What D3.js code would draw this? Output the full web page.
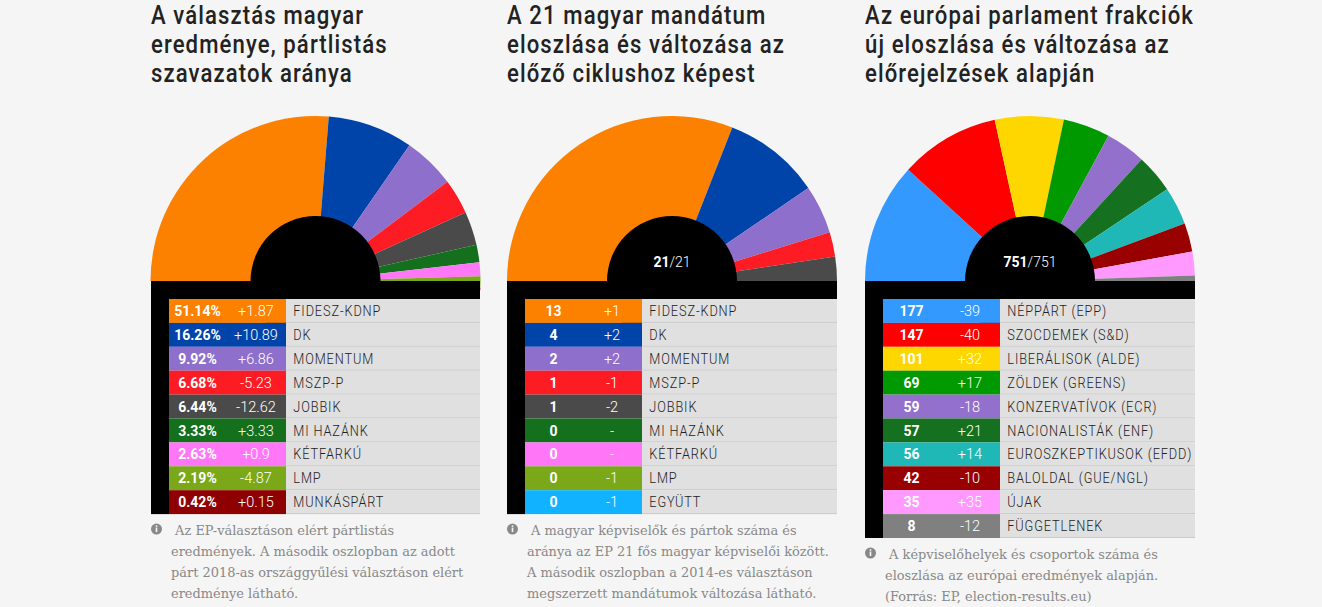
<!DOCTYPE html>
<html>
<head>
<meta charset="utf-8">
<script src="https://cdn.jsdelivr.net/npm/d3@7"></script>
<style>
  html, body { margin: 0; background: #f5f5f5; overflow: hidden; }
  .title { font-family: "Roboto", sans-serif; font-weight: 500; font-size: 25px; letter-spacing: 1.25px; fill: #222; }
  .val { font-family: "Roboto", sans-serif; font-weight: 700; font-size: 14px; fill: #fff; text-anchor: middle; }
  .diff { font-family: "Roboto", sans-serif; font-weight: 300; font-size: 14.5px; fill: #fff; text-anchor: middle; }
  .name { font-family: "Roboto", sans-serif; font-weight: 300; font-size: 14.5px; letter-spacing: 1px; fill: #222; }
  .note { font-family: "DejaVu Serif", serif; font-size: 12.95px; fill: #888; }
  .count { font-family: "Roboto", sans-serif; font-size: 14px; fill: #fff; text-anchor: middle; }
</style>
</head>
<body>
<svg id="chart" width="1322" height="607"></svg>
<script>
// Chart 1: party list result
const partiesA = ["FIDESZ-KDNP", "DK", "MOMENTUM", "MSZP-P", "JOBBIK", "MI HAZÁNK", "KÉTFARKÚ", "LMP", "MUNKÁSPÁRT"];
const sharesA = [51.14, 16.26, 9.92, 6.68, 6.44, 3.33, 2.63, 2.19, 0.42];
const labelsA = ["51.14%", "16.26%", "9.92%", "6.68%", "6.44%", "3.33%", "2.63%", "2.19%", "0.42%"];
const diffsA = ["+1.87", "+10.89", "+6.86", "-5.23", "-12.62", "+3.33", "+0.9", "-4.87", "+0.15"];
const colorsA = ["#fd8100", "#0044aa", "#8e6fcb", "#fe1c24", "#4a4a4a", "#14701c", "#ff77f7", "#7aa818", "#8f0000"];

// Chart 2: the 21 Hungarian seats
const partiesB = ["FIDESZ-KDNP", "DK", "MOMENTUM", "MSZP-P", "JOBBIK", "MI HAZÁNK", "KÉTFARKÚ", "LMP", "EGYÜTT"];
const seatsB = [13, 4, 2, 1, 1, 0, 0, 0, 0];
const diffsB = ["+1", "+2", "+2", "-1", "-2", "-", "-", "-1", "-1"];
const colorsB = ["#fd8100", "#0044aa", "#8e6fcb", "#fe1c24", "#4a4a4a", "#14701c", "#ff77f7", "#7aa818", "#11b2ff"];

// Chart 3: EP groups
const groupsC = ["NÉPPÁRT (EPP)", "SZOCDEMEK (S&D)", "LIBERÁLISOK (ALDE)", "ZÖLDEK (GREENS)", "KONZERVATÍVOK (ECR)", "NACIONALISTÁK (ENF)", "EUROSZKEPTIKUSOK (EFDD)", "BALOLDAL (GUE/NGL)", "ÚJAK", "FÜGGETLENEK"];
const seatsC = [177, 147, 101, 69, 59, 57, 56, 42, 35, 8];
const diffsC = ["-39", "-40", "+32", "+17", "-18", "+21", "+14", "-10", "+35", "-12"];
const colorsC = ["#3399ff", "#ff0000", "#ffd700", "#009900", "#9370cc", "#15711f", "#20b7b7", "#990000", "#ff99ff", "#808080"];

const titles = [
  ["A választás magyar", "eredménye, pártlistás", "szavazatok aránya"],
  ["A 21 magyar mandátum", "eloszlása és változása az", "előző ciklushoz képest"],
  ["Az európai parlament frakciók", "új eloszlása és változása az", "előrejelzések alapján"]
];
const notes = [
  [" Az EP-választáson elért pártlistás", "eredmények. A második oszlopban az adott", "párt 2018-as országgyűlési választáson elért", "eredménye látható."],
  [" A magyar képviselők és pártok száma és", "aránya az EP 21 fős magyar képviselői között.", "A második oszlopban a 2014-es választáson", "megszerzett mandátumok változása látható."],
  [" A képviselőhelyek és csoportok száma és", "eloszlása az európai eredmények alapján.", "(Forrás: EP, election-results.eu)"]
];

const svg = d3.select("#chart");
const baseY = 281, bandH = 18, rowH = 23.9, outerR = 165, innerR = 65;

function drawPanel(cfg) {
  const g = svg.append("g").attr("transform", `translate(${cfg.x}, 0)`);
  const w = cfg.w, cx = w / 2;

  // no condensed font installed, so squeeze the headline horizontally
  g.selectAll(".title").data(cfg.title).enter().append("text")
    .attr("class", "title")
    .attr("transform", (d, i) => `translate(0, ${24 + i * 29}) scale(0.885, 1)`)
    .text(d => d);

  // half donut, sized so that the slices run past the band when span > 180
  const pie = d3.pie().sort(null).startAngle(-Math.PI / 2).endAngle(cfg.span * Math.PI / 180 - Math.PI / 2);
  const arc = d3.arc().innerRadius(0).outerRadius(outerR);
  g.append("g").attr("transform", `translate(${cx}, ${baseY})`)
    .selectAll("path").data(pie(cfg.values)).enter().append("path")
    .attr("d", arc).attr("fill", (d, i) => cfg.colors[i]);

  g.append("circle").attr("cx", cx).attr("cy", baseY).attr("r", innerR).attr("fill", "#000");
  if (cfg.count) {
    const t = g.append("text").attr("class", "count").attr("x", cx).attr("y", 267);
    t.append("tspan").attr("font-weight", 700).text(cfg.count[0]);
    t.append("tspan").attr("font-weight", 300).text("/" + cfg.count[1]);
  }

  // table
  const y = d3.scaleBand().domain(d3.range(cfg.names.length))
    .range([baseY + bandH, baseY + bandH + rowH * cfg.names.length]);
  g.append("rect").attr("x", 0).attr("y", baseY).attr("width", w).attr("height", bandH).attr("fill", "#000");
  g.append("rect").attr("x", 0).attr("y", baseY).attr("width", 18)
    .attr("height", bandH + rowH * cfg.names.length).attr("fill", "#000");

  const rows = g.selectAll(".row").data(cfg.names).enter().append("g")
    .attr("transform", (d, i) => `translate(18, ${y(i)})`);
  rows.append("rect").attr("x", 117).attr("width", w - 135).attr("height", y.bandwidth()).attr("fill", "#e0e0e0");
  rows.append("rect").attr("width", 117).attr("height", y.bandwidth()).attr("fill", (d, i) => cfg.colors[i]);
  rows.append("line").attr("x1", 117).attr("x2", w - 18).attr("y1", y.bandwidth() - 0.5).attr("y2", y.bandwidth() - 0.5)
    .attr("stroke", "#cbcbcb");
  rows.append("text").attr("class", "val").attr("x", 28.5).attr("y", 17).text((d, i) => cfg.labels[i]);
  rows.append("text").attr("class", "diff").attr("x", 87).attr("y", 17).text((d, i) => cfg.diffs[i]);
  rows.append("text").attr("class", "name")
    .attr("transform", "translate(124.3, 17) scale(0.88, 1)").text(d => d);

  // note under the table
  const noteY = baseY + bandH + rowH * cfg.names.length;
  g.append("circle").attr("cx", 5.5).attr("cy", noteY + 15).attr("r", 5.5).attr("fill", "#888");
  g.append("rect").attr("x", 4.7).attr("y", noteY + 13.5).attr("width", 1.6).attr("height", 4.5).attr("fill", "#f5f5f5");
  g.append("rect").attr("x", 4.7).attr("y", noteY + 11.2).attr("width", 1.6).attr("height", 1.6).attr("fill", "#f5f5f5");
  g.selectAll(".note").data(cfg.note).enter().append("text")
    .attr("class", "note").attr("x", 20).attr("xml:space", "preserve")
    .attr("y", (d, i) => noteY + 21 + i * 21).text(d => d);
}

drawPanel({ x: 151, w: 329, span: 183.2, title: titles[0], note: notes[0], names: partiesA, values: sharesA, labels: labelsA, diffs: diffsA, colors: colorsA });
drawPanel({ x: 507, w: 330, span: 180, title: titles[1], note: notes[1], names: partiesB, values: seatsB, labels: seatsB, diffs: diffsB, colors: colorsB, count: [21, 21] });
drawPanel({ x: 865, w: 330, span: 180, title: titles[2], note: notes[2], names: groupsC, values: seatsC, labels: seatsC, diffs: diffsC, colors: colorsC, count: [751, 751] });
</script>
</body>
</html>
